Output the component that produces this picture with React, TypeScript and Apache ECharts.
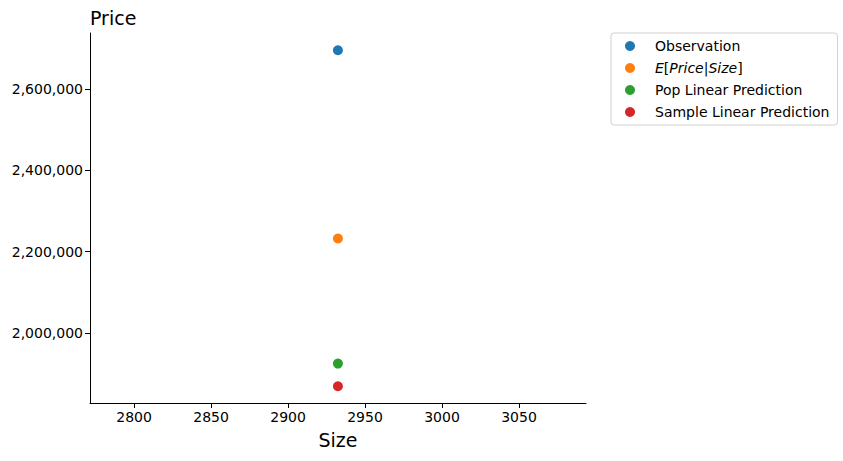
import React, { useEffect, useRef } from "react";
import * as echarts from "echarts";

const seriesNames = ["Observation", "E[Price|Size]", "Pop Linear Prediction", "Sample Linear Prediction"];
const seriesColors = ["#1f77b4", "#ff7f0e", "#2ca02c", "#d62728"];
const sizeValues = [2932.4, 2932.4, 2932.4, 2932.4];
const priceValues = [2695000, 2232000, 1924500, 1868600];
const xTicks = [2800, 2850, 2900, 2950, 3000, 3050];
const yTicks = [2000000, 2200000, 2400000, 2600000];
const xRange = [2771.4, 3093.5];
const yRange = [1827500, 2737500];

const FONT = "DejaVu Sans";

export default function App() {
  const ref = useRef<HTMLDivElement>(null);
  useEffect(() => {
    if (!ref.current) return;
    const chart = echarts.init(ref.current, null, { renderer: "svg" });
    const fmt = (v: number) => v.toLocaleString("en-US");
    chart.setOption({
      animation: false,
      textStyle: { fontFamily: FONT },
      title: {
        text: "Price",
        left: 85,
        top: 3,
        textStyle: { fontFamily: FONT, fontSize: 19, fontWeight: "normal", color: "#000" },
      },
      grid: { left: 90, top: 33, width: 496, height: 370, containLabel: false },
      legend: {
        orient: "vertical",
        left: 611,
        top: 33,
        padding: [6, 8, 6, 14],
        itemGap: 8,
        itemWidth: 10,
        itemHeight: 10,
        icon: "circle",
        borderColor: "#d0d0d0",
        borderWidth: 1,
        borderRadius: 3,
        data: seriesNames,
        formatter: (name: string) =>
          name === "E[Price|Size]" ? "{i|E}[{i|Price}|{i|Size}]" : name,
        textStyle: {
          fontFamily: FONT,
          fontSize: 14,
          color: "#000",
          padding: [0, 0, 0, 15],
          rich: { i: { fontStyle: "italic", fontFamily: FONT, fontSize: 14, color: "#000" } },
        },
      },
      xAxis: {
        type: "value",
        min: xRange[0],
        max: xRange[1],
        name: "Size",
        nameLocation: "middle",
        nameGap: 27,
        nameTextStyle: { fontFamily: FONT, fontSize: 19, color: "#000" },
        axisLine: { show: true, onZero: false, lineStyle: { color: "#000", width: 1 } },
        axisTick: { show: true, length: 5, customValues: xTicks, lineStyle: { color: "#000" } },
        axisLabel: { customValues: xTicks, fontFamily: FONT, fontSize: 14, color: "#000", margin: 7, formatter: (v: number) => String(v) },
        splitLine: { show: false },
      },
      yAxis: {
        type: "value",
        min: yRange[0],
        max: yRange[1],
        axisLine: { show: true, onZero: false, lineStyle: { color: "#000", width: 1 } },
        axisTick: { show: true, length: 5, customValues: yTicks, lineStyle: { color: "#000" } },
        axisLabel: { customValues: yTicks, fontFamily: FONT, fontSize: 14, color: "#000", margin: 7, formatter: fmt },
        splitLine: { show: false },
      },
      series: seriesNames.map((n, i) => ({
        name: n,
        type: "scatter",
        symbol: "circle",
        symbolSize: 10,
        itemStyle: { color: seriesColors[i], opacity: 1 },
        data: [[sizeValues[i], priceValues[i]]],
      })),
    });
    return () => chart.dispose();
  }, []);
  return <div ref={ref} style={{ width: 843, height: 461, position: "absolute", left: 0, top: 0 }} />;
}
